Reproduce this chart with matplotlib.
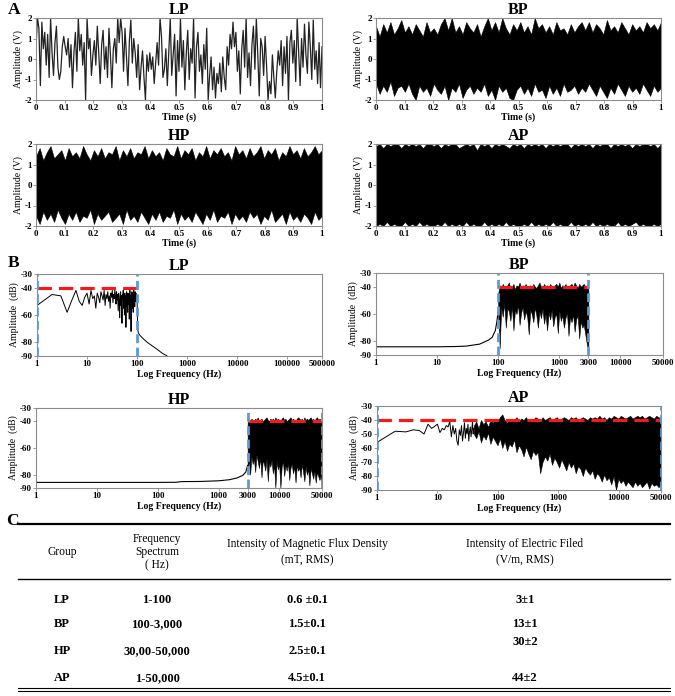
import numpy as np
import matplotlib
matplotlib.use("Agg")
import matplotlib.pyplot as plt
from matplotlib.ticker import FixedLocator, FixedFormatter, NullLocator

plt.rcParams['font.family'] = ['Liberation Serif', 'DejaVu Serif']
plt.rcParams['axes.unicode_minus'] = False

# ---------------- data ----------------
# A: time signals (V)
lp_time = [
    0.5, 2.0, 1.5, -1.3, 1.8, 0.5, 1.3, -0.3, 1.2, -0.9, 2.0, 0.3, -0.8, 0.8, 1.6, -0.4, -1.0, -0.6, 0.6, 1.1,
    0.6, 0.2, 1.0, -0.4, 0.7, -1.4, 0.3, 1.3, -0.6, 2.0, 0.4, 1.2, -0.3, 0.8, -2.0, 2.0, 0.5, 1.0, -0.8, 0.2,
    0.9, -0.3, 1.6, 0.3, -1.2, 0.7, 1.4, -0.5, 0.6, -0.9, 1.5, 0.2, -1.4, 0.5, 1.0, -0.2, 2.0, 0.8, 2.0, 1.3,
    -0.6, 1.5, 0.1, -1.3, 0.9, 1.9, -0.2, 1.0, 0.3, -0.9, 0.7, -1.5, -0.4, 0.4, -0.9, -2.0, 0.2, -0.6, 0.3, -0.5,
    0.1, -1.2, -0.2, 0.8, -0.3, 2.0, 1.1, -0.9, -0.5, 0.5, -1.3, 0.3, 2.0, -0.8, 0.2, 1.2, -1.8, 0.9, -0.6, 2.0,
    -0.4, 0.9, -1.5, 0.3, 1.4, -1.0, 0.5, -0.2, 2.0, -1.9, 0.6, 1.3, -0.6, 0.2, -1.2, 0.7, -0.5, 1.5, -2.0, -0.8,
    0.1, -1.5, -0.4, -1.9, -0.7, -1.2, -0.2, -1.6, 0.1, -0.9, -1.5, 0.6, -0.3, 1.2, 0.5, 1.8, 0.6, 1.3, -0.6, 0.4,
    -1.7, 0.5, 1.4, -0.4, 2.0, -0.9, 0.3, -1.3, 0.7, 1.6, -0.5, 2.0, 0.2, -1.8, 1.0, 0.6, -0.8, 1.1, -0.3, -2.0,
    -1.1, -1.7, 0.2, -0.9, -1.9, -0.6, 0.4, -0.3, 0.9, -1.3, 0.6, -0.7, 1.1, -2.0, 0.8, 1.4, -0.2, 0.9, -1.1, 2.0,
    0.3, -1.3, 1.0, -0.4, 1.7, 0.2, -0.7, 1.8, 0.6, -1.0, 1.9, -0.5, 0.4, -1.2, 0.8, -1.4, 0.6]

# dense signals: upper / lower envelope of the black band
bp_top = [1.6, 1.1, 1.7, 1.3, 1.8, 1.2, 1.5, 1.9, 1.3, 1.6, 1.2, 1.7, 1.4, 1.1, 1.8, 1.3, 1.5, 1.2, 1.7, 2.0,
          1.4, 2.0, 1.3, 1.6, 1.2, 1.8, 1.5, 1.3, 1.7, 1.1, 1.6, 2.0, 1.4, 1.8, 1.3, 2.0, 1.5, 1.2, 1.7, 1.4,
          1.8, 1.3, 1.6, 1.2, 2.0, 1.5, 1.7, 1.3, 1.6, 1.2, 1.8, 1.4, 1.5, 1.2, 1.7, 1.3, 1.6, 1.8, 1.4, 1.8,
          1.3, 1.7, 1.5, 1.2, 1.9, 1.4, 1.6, 1.3, 1.8, 1.5, 1.2, 1.7, 1.4, 1.6, 1.3, 1.8, 1.5, 1.7, 1.4, 1.8]
bp_bot = [-1.2, -1.7, -1.3, -1.6, -1.1, -1.8, -1.4, -1.3, -1.6, -1.2, -1.7, -2.0, -1.3, -1.6, -1.4, -1.8, -1.2, -1.5, -1.7, -1.3,
          -2.0, -1.4, -1.6, -1.2, -1.9, -1.5, -1.3, -1.7, -1.4, -1.6, -1.2, -1.8, -1.5, -2.0, -1.3, -1.6, -1.4, -1.9, -2.0, -1.5,
          -1.3, -1.7, -1.4, -1.8, -1.2, -1.6, -1.5, -1.9, -1.3, -1.7, -1.4, -1.8, -1.2, -1.6, -1.5, -1.3, -1.7, -1.4, -1.6, -1.2,
          -1.5, -1.8, -1.3, -1.6, -1.9, -1.4, -1.7, -1.2, -1.5, -1.8, -1.3, -1.6, -1.4, -1.7, -1.2, -1.5, -1.8, -1.3, -1.6, -1.4]
hp_top = [1.4, 1.8, 1.2, 1.6, 1.9, 1.3, 1.5, 1.7, 1.2, 1.8, 1.4, 1.6, 1.3, 1.9, 1.5, 1.2, 1.7, 1.4, 1.8, 1.3,
          1.6, 1.5, 1.9, 1.2, 1.7, 1.4, 1.8, 1.3, 1.6, 1.5, 1.9, 1.3, 1.7, 1.4, 1.6, 1.2, 1.8, 1.5, 1.4, 1.9,
          1.3, 1.7, 1.5, 1.8, 1.2, 1.6, 1.4, 1.9, 1.3, 1.7, 1.5, 1.8, 1.4, 1.6, 1.2, 1.9, 1.5, 1.7, 1.3, 1.8,
          1.4, 1.6, 1.9, 1.3, 1.7, 1.5, 1.8, 1.2, 1.6, 1.4, 1.9, 1.5, 1.7, 1.3, 1.8, 1.4, 1.6, 1.9, 1.5, 1.7]
hp_bot = [-1.5, -1.9, -1.3, -1.7, -1.4, -1.8, -1.2, -1.6, -1.9, -1.4, -1.7, -1.3, -1.8, -1.5, -1.6, -1.2, -1.9, -1.4, -1.7, -1.5,
          -1.3, -1.8, -1.6, -1.4, -1.9, -1.2, -1.7, -1.5, -1.8, -1.3, -1.6, -1.9, -1.4, -1.7, -1.3, -1.8, -1.5, -1.6, -1.2, -1.9,
          -1.4, -1.7, -1.5, -1.8, -1.3, -1.6, -1.9, -1.4, -1.7, -1.2, -1.8, -1.5, -1.6, -1.3, -1.9, -1.4, -1.7, -1.5, -1.8, -1.3,
          -1.6, -1.4, -1.9, -1.5, -1.7, -1.2, -1.8, -1.6, -1.4, -1.9, -1.3, -1.7, -1.5, -1.8, -1.4, -1.6, -1.9, -1.3, -1.7, -1.5]
ap_top = [1.9, 2.0, 1.8, 2.0, 1.9, 2.0, 2.0, 1.8, 2.0, 1.9, 2.0, 1.9, 2.0, 1.8, 2.0, 2.0, 1.9, 2.0, 1.8, 2.0,
          1.9, 2.0, 2.0, 1.8, 1.9, 2.0, 1.9, 2.0, 1.7, 2.0, 1.9, 2.0, 1.8, 2.0, 1.9, 2.0, 1.9, 1.8, 2.0, 1.9,
          2.0, 1.8, 2.0, 1.9, 2.0, 1.9, 2.0, 1.8, 2.0, 1.9, 2.0, 1.9, 2.0, 2.0, 1.8, 2.0, 1.9, 2.0, 1.9, 2.0,
          1.8, 2.0, 1.9, 2.0, 2.0, 1.8, 2.0, 1.9, 2.0, 1.9, 2.0, 1.8, 2.0, 1.9, 2.0, 2.0, 1.9, 2.0, 1.8, 2.0]
ap_bot = [-2.0, -1.9, -2.0, -1.8, -2.0, -1.9, -2.0, -2.0, -1.8, -2.0, -1.9, -2.0, -1.8, -2.0, -1.9, -2.0, -2.0, -1.9, -2.0, -1.8,
          -2.0, -1.9, -2.0, -1.9, -2.0, -1.8, -2.0, -1.9, -2.0, -2.0, -1.8, -2.0, -1.9, -2.0, -1.9, -2.0, -1.8, -2.0, -1.9, -2.0,
          -2.0, -1.9, -2.0, -1.8, -2.0, -1.9, -2.0, -1.9, -2.0, -1.8, -2.0, -1.9, -2.0, -2.0, -1.8, -2.0, -1.9, -2.0, -1.9, -2.0,
          -1.8, -2.0, -1.9, -2.0, -1.9, -2.0, -2.0, -1.8, -2.0, -1.9, -2.0, -1.9, -1.8, -2.0, -1.9, -2.0, -2.0, -1.9, -2.0, -1.9]

# B: spectra (dB)
lp_freq = list(range(1, 101)) + [103, 106, 115, 130, 160, 200, 250, 320, 400]
lp_db = [-53, -45, -46, -58, -49, -42, -50, -53, -47, -44,
         -52, -42, -48, -46, -55, -44, -47, -51, -43, -46,
         -49, -42, -53, -45, -48, -43, -50, -46, -55, -44,
         -47, -42, -51, -45, -48, -41, -46, -52, -43, -49,
         -45, -57, -44, -50, -62, -47, -43, -53, -46, -66,
         -45, -48, -42, -55, -47, -60, -44, -51, -46, -69,
         -48, -43, -54, -46, -58, -44, -49, -52, -45, -63,
         -47, -42, -56, -46, -50, -72, -45, -48, -43, -55,
         -47, -50, -44, -58, -46, -41, -52, -47, -45, -54,
         -48, -43, -50, -46, -44, -49, -47, -45, -48, -46,
         -70, -73, -75, -77, -80, -82.5, -85, -88, -90]

bp_freq_low = [1, 2, 5, 10, 20, 30, 50, 70, 80, 90, 95, 100]
bp_db_low = [-84, -84, -84, -84, -83.8, -83.5, -82, -79, -77, -72, -66, -58]
bp_band_top = [-45, -39, -41, -38, -40, -42, -39, -37, -41, -40, -38, -42, -39, -40, -37, -41, -39, -40, -38, -41,
               -40, -39, -42, -38, -40, -41, -39, -37, -40, -41, -38, -40, -39, -42, -38, -40, -41, -39, -38, -40,
               -37, -41, -39, -40, -38, -41, -40, -39, -38, -40, -37, -39, -41, -38, -40, -39, -38, -40, -39, -42]
bp_band_bot = [-60, -85, -55, -62, -52, -70, -56, -58, -65, -54, -72, -57, -60, -53, -68, -59, -55, -64, -58, -62,
               -75, -57, -60, -66, -55, -61, -70, -58, -63, -56, -67, -60, -72, -59, -64, -57, -69, -62, -60, -74,
               -58, -65, -61, -70, -63, -59, -76, -62, -66, -60, -73, -64, -61, -78, -65, -70, -68, -75, -82, -90]

hp_freq_low = [1, 10, 100, 200, 250, 500, 1000, 1500, 2000, 2500, 2800, 3000]
hp_db_low = [-85.8, -85.8, -85.8, -85.7, -85.2, -85.1, -84.6, -83.8, -82.5, -80.5, -78, -73]
hp_band_top = [-41, -39, -40, -38, -39, -40, -38, -39, -37, -40, -39, -38, -40, -39, -38, -37, -39, -40, -38, -39,
               -38, -40, -37, -39, -38, -39, -40, -38, -37, -39, -38, -40, -39, -38, -37, -39, -38, -39, -40, -38,
               -37, -38, -39, -38, -40, -37, -39, -38, -39, -38, -37, -39, -38, -40, -38, -37, -39, -38, -39, -40]
hp_band_bot = [-74, -70, -80, -66, -72, -68, -78, -65, -70, -75, -67, -82, -69, -72, -77, -68, -85, -71, -74, -69,
               -79, -73, -90, -70, -76, -72, -90, -74, -70, -81, -73, -77, -71, -84, -75, -72, -79, -74, -86, -73,
               -77, -75, -82, -72, -78, -85, -74, -80, -76, -88, -75, -79, -83, -77, -86, -78, -81, -84, -80, -90]

ap_freq_low = list(range(1, 41))
ap_db_low = [-56, -48, -48.5, -47, -47.5, -50, -43, -46, -44.5, -43,
             -49, -46, -47, -44, -45, -41, -52, -44, -50, -46,
             -55, -58, -47, -51, -44, -55, -49, -42, -53, -46,
             -50, -43, -55, -48, -45, -52, -47, -41, -50, -46]
ap_band_top = [-44, -41, -46, -40, -43, -41, -45, -40, -42, -39, -41, -38, -36, -40, -42, -39, -41, -40, -38, -41,
               -39, -40, -38, -41, -39, -40, -38, -39, -41, -38, -40, -39, -38, -40, -39, -38, -40, -39, -38, -39,
               -40, -38, -39, -38, -40, -39, -38, -39, -40, -38, -39, -38, -39, -37, -39, -38, -40, -38, -39, -37,
               -38, -39, -37, -38, -39, -38, -37, -39, -38, -37, -38, -37, -39, -38, -37, -38, -39, -37, -38, -40]
ap_band_bot = [-50, -53, -48, -56, -51, -54, -49, -57, -52, -55, -58, -53, -60, -55, -62, -57, -59, -54, -63, -58,
               -61, -66, -59, -64, -68, -62, -65, -63, -78, -70, -66, -69, -64, -72, -67, -70, -74, -68, -72, -76,
               -70, -74, -71, -78, -73, -75, -80, -74, -77, -79, -76, -82, -78, -80, -84, -79, -83, -81, -86, -80,
               -90, -82, -85, -83, -87, -84, -86, -88, -84, -87, -85, -88, -86, -84, -89, -85, -87, -86, -88, -85]

# C: table
groups = ["LP", "BP", "HP", "AP"]
freq_spectrum = ["1-100", "100-3,000", "30,00-50,000", "1-50,000"]
flux_density = ["0.6 \u00b10.1", "1.5\u00b10.1", "2.5\u00b10.1", "4.5\u00b10.1"]
electric_field = ["3\u00b11", "13\u00b11", "30\u00b12", "44\u00b12"]

# ---------------- figure ----------------
W, H = 675, 696
fig = plt.figure(figsize=(W / 100, H / 100), dpi=100)


def rect(l, t, r, b):
    return [l / W, 1 - b / H, (r - l) / W, (b - t) / H]


def style(ax, title):
    for s in ax.spines.values():
        s.set_color('#8c8c8c')
        s.set_linewidth(0.8)
    ax.tick_params(length=2, width=0.6, color='#8c8c8c', labelsize=6.5, pad=1)
    for lab in ax.get_xticklabels() + ax.get_yticklabels():
        lab.set_fontweight('bold')
    ax.set_title(title, fontsize=11.5, fontweight='bold', pad=2)


def time_axes(ax, title):
    ax.set_xlim(0, 1)
    ax.set_ylim(-2, 2)
    ax.set_xticks(np.arange(0, 1.01, 0.1))
    ax.set_xticklabels(["0", "0.1", "0.2", "0.3", "0.4", "0.5", "0.6", "0.7", "0.8", "0.9", "1"])
    ax.set_yticks([-2, -1, 0, 1, 2])
    ax.set_xlabel("Time (s)", fontsize=7, fontweight='bold', labelpad=0.5)
    ax.set_ylabel("Amplitude (V)", fontsize=7, labelpad=1)
    style(ax, title)


def band_time(ax, top, bot):
    t = np.linspace(0, 1, len(top))
    ax.fill_between(t, bot, top, color='black', lw=0.4)


# A panels
ax = fig.add_axes(rect(36, 18, 322, 100))
ax.plot(np.linspace(0, 1, len(lp_time)), lp_time, color='#222222', lw=0.9)
time_axes(ax, "LP")

ax = fig.add_axes(rect(376, 18, 661, 100))
band_time(ax, bp_top, bp_bot)
time_axes(ax, "BP")

ax = fig.add_axes(rect(36, 144, 322, 226))
band_time(ax, hp_top, hp_bot)
time_axes(ax, "HP")

ax = fig.add_axes(rect(376, 144, 661, 226))
band_time(ax, ap_top, ap_bot)
time_axes(ax, "AP")

RED = '#ee1c1c'
BLUE = '#5b9bd5'


def spec_axes(ax, title, xmax, xticks, yticks, xr, vlines):
    ax.set_xscale('log')
    ax.set_xlim(1, xmax)
    ax.set_ylim(-90, -30)
    ax.xaxis.set_major_locator(FixedLocator(xticks))
    ax.xaxis.set_major_formatter(FixedFormatter([str(v) for v in xticks]))
    ax.xaxis.set_minor_locator(NullLocator())
    ax.set_yticks(yticks)
    ax.plot(xr, [-40, -40], color=RED, lw=2.3, dashes=(4.5, 2.2), zorder=5)
    for xv in vlines:
        ax.axvline(xv, color=BLUE, lw=2.0, dashes=(3.2, 1.6), zorder=6)
    ax.set_xlabel("Log Frequency (Hz)", fontsize=7, fontweight='bold', labelpad=1)
    ax.set_ylabel("Amplitude  (dB)", fontsize=7, labelpad=1)
    style(ax, title)


yt5 = [-30, -40, -60, -80, -90]

# B panels
ax = fig.add_axes(rect(37, 274, 322, 356))
ax.plot(lp_freq, lp_db, color='black', lw=0.7)
spec_axes(ax, "LP", 500000, [1, 10, 100, 1000, 10000, 100000, 500000], yt5, [1, 100], [1, 100])

ax = fig.add_axes(rect(376, 273, 663, 355))
ax.plot(bp_freq_low, bp_db_low, color='black', lw=0.8)
fb = np.geomspace(100, 3000, len(bp_band_top))
ax.fill_between(fb, bp_band_bot, bp_band_top, color='black', lw=0.4)
spec_axes(ax, "BP", 50000, [1, 10, 100, 1000, 3000, 10000, 50000], yt5, [100, 3000], [100, 3000])

ax = fig.add_axes(rect(36, 408, 322, 488))
ax.plot(hp_freq_low, hp_db_low, color='black', lw=0.8)
fh = np.geomspace(3000, 50000, len(hp_band_top))
ax.fill_between(fh, hp_band_bot, hp_band_top, color='black', lw=0.4)
spec_axes(ax, "HP", 50000, [1, 10, 100, 1000, 3000, 10000, 50000], yt5, [3000, 50000], [3000, 50000])

ax = fig.add_axes(rect(377, 406, 661, 490))
ax.plot(ap_freq_low, ap_db_low, color='black', lw=0.7)
fa = np.geomspace(40, 50000, len(ap_band_top))
ax.fill_between(fa, ap_band_bot, ap_band_top, color='black', lw=0.4)
spec_axes(ax, "AP", 50000, [1, 10, 100, 1000, 10000, 50000],
          [-30, -40, -50, -60, -70, -80, -90], [1, 50000], [1, 50000])

# panel letters
fig.text(8 / W, 1 - 10 / H, "A", fontsize=12.5, fontweight='bold', va='center')
fig.text(8 / W, 1 - 263 / H, "B", fontsize=12.5, fontweight='bold', va='center')
fig.text(6 / W, 1 - 521 / H, "C", fontsize=12.5, fontweight='bold', va='center')

# C table drawn on an overlay in pixel coordinates
tx = fig.add_axes([0, 0, 1, 1])
tx.set_xlim(0, W)
tx.set_ylim(H, 0)
tx.axis('off')
tx.plot([18, 670], [524, 524], color='black', lw=1.6)
tx.plot([18, 670], [579, 579], color='black', lw=1.0)
tx.plot([18, 670], [688, 688], color='black', lw=0.8)
tx.plot([18, 670], [691, 691], color='black', lw=0.8)

col_x = [62, 157, 307, 525]
fs_head = 8.3
fs = 9
tx.text(col_x[0], 552, "Group", ha='center', va='center', fontsize=fs_head)
tx.text(col_x[1], 552, "Frequency\nSpectrum\n( Hz)", ha='center', va='center', fontsize=fs_head, linespacing=1.15)
tx.text(col_x[2], 552, "Intensity of Magnetic Flux Density\n(mT, RMS)", ha='center', va='center',
        fontsize=fs_head, linespacing=1.4)
tx.text(col_x[3], 552, "Intensity of Electric Filed\n(V/m, RMS)", ha='center', va='center',
        fontsize=fs_head, linespacing=1.4)

row_y = [600, 624, 651, 678]
for i in range(4):
    tx.text(col_x[0], row_y[i], groups[i], ha='center', va='center', fontsize=fs, fontweight='bold')
    tx.text(col_x[1], row_y[i], freq_spectrum[i], ha='center', va='center', fontsize=fs, fontweight='bold')
    tx.text(col_x[2], row_y[i], flux_density[i], ha='center', va='center', fontsize=fs, fontweight='bold')
    ey = row_y[i] - 9 if groups[i] == "HP" else row_y[i]
    tx.text(col_x[3], ey, electric_field[i], ha='center', va='center', fontsize=fs, fontweight='bold')

fig.savefig("out.png", dpi=100)
